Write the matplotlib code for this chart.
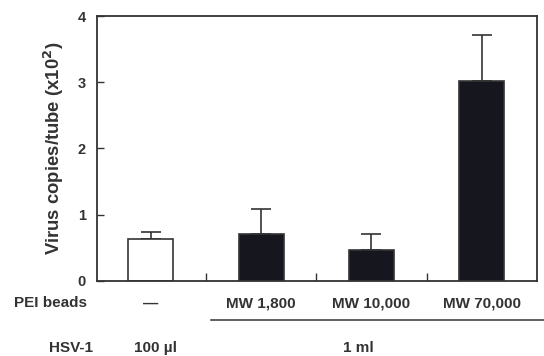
import matplotlib
matplotlib.use("Agg")
import matplotlib.pyplot as plt
import numpy as np

plt.rcParams['font.family'] = ['Liberation Sans', 'DejaVu Sans']
plt.rcParams['font.weight'] = 'bold'

groups = ["\u2014", "MW 1,800", "MW 10,000", "MW 70,000"]
means = [0.63, 0.71, 0.47, 3.02]
err_up = [0.11, 0.37, 0.24, 0.69]
fills = ["white", "#16161e", "#16161e", "#16161e"]
yticks = [0, 1, 2, 3, 4]

ink = "#333333"
fs = 11

fig = plt.figure(figsize=(5.44, 3.56), dpi=100)
ax = fig.add_axes([0.178, 0.211, 0.809, 0.744])

x = np.arange(len(means))
ax.bar(x, means, width=0.41, color=fills, edgecolor=ink, linewidth=1.2, zorder=2)
ax.errorbar(x, means, yerr=[np.zeros(len(means)), err_up], fmt="none",
            ecolor=ink, elinewidth=1.2, capsize=7, capthick=1.2, zorder=1)

ax.set_xlim(-0.49, 3.5)
ax.set_ylim(0, 4)
ax.set_yticks(yticks)
ax.set_yticklabels([str(t) for t in yticks], fontsize=10.5, color=ink, fontweight="bold")
ax.tick_params(axis="y", direction="in", length=5, width=1, color=ink, pad=8)
ax.set_xticks(x[:-1] + 0.5)
ax.set_xticklabels([])
ax.tick_params(axis="x", direction="in", length=6, width=1, color=ink)
for s in ax.spines.values():
    s.set_color(ink)
    s.set_linewidth(1.3)

ax.set_ylabel("Virus copies/tube (x10$^{\\mathbf{2}}$)", fontsize=13.3, color=ink,
              fontweight="bold", labelpad=8)

# row labels below the axes
tr = ax.get_xaxis_transform()
for xi, g in zip(x, groups):
    ax.text(xi, -0.085, g, transform=tr, ha="center", va="center",
            fontsize=fs, color=ink, fontweight="bold")
fig.text(14 / 544, 1 - 303 / 356, "PEI beads", ha="left", va="center",
         fontsize=fs, color=ink, fontweight="bold")
fig.add_artist(plt.Line2D([211 / 544, 1.0], [1 - 320 / 356] * 2, color=ink, lw=1.1))
fig.text(49 / 544, 1 - 348 / 356, "HSV-1", ha="left", va="center",
         fontsize=fs, color=ink, fontweight="bold")
fig.text(156 / 544, 1 - 348 / 356, "100 \u00b5l", ha="center", va="center",
         fontsize=fs, color=ink, fontweight="bold")
fig.text(358 / 544, 1 - 348 / 356, "1 ml", ha="center", va="center",
         fontsize=fs, color=ink, fontweight="bold")

fig.savefig("out.png", dpi=100)
